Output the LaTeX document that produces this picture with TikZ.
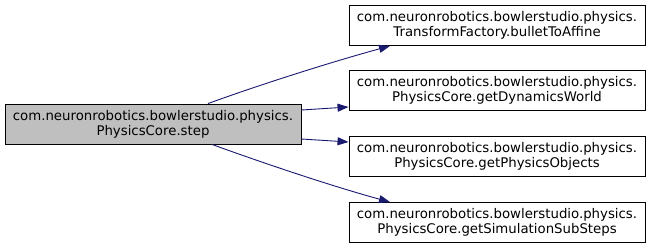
\documentclass[tikz,border=0pt]{standalone}
\usepackage{fontspec}
\setmainfont{DejaVu Sans}
\usetikzlibrary{arrows.meta}

\definecolor{edgeblue}{HTML}{191970}
\definecolor{focusgray}{HTML}{BFBFBF}

\tikzstyle{fn} = [draw=black, line width=0.9pt, fill=white, align=center, inner sep=0pt,
    minimum width=296pt, minimum height=40pt, font=\fontsize{13.3}{15}\selectfont]
\tikzstyle{focus} = [fn, fill=focusgray]
\tikzstyle{call} = [draw=edgeblue, line width=0.9pt, -{Triangle[length=11pt,width=8pt]}]

\begin{document}
\begin{tikzpicture}[x=1pt, y=-1pt]
\useasboundingbox (0,0) rectangle (651,248);
\node[focus] (step) at (153,124) {com.neuronrobotics.bowlerstudio.physics.\\PhysicsCore.step};
\node[fn] (affine) at (497,25.5) {com.neuronrobotics.bowlerstudio.physics.\\TransformFactory.bulletToAffine};
\node[fn] (world) at (497,90.5) {com.neuronrobotics.bowlerstudio.physics.\\PhysicsCore.getDynamicsWorld};
\node[fn] (objects) at (497,156) {com.neuronrobotics.bowlerstudio.physics.\\PhysicsCore.getPhysicsObjects};
\node[fn] (substeps) at (497,222.5) {com.neuronrobotics.bowlerstudio.physics.\\PhysicsCore.getSimulationSubSteps};
% calls out of step()
\draw[call] ([xshift=55pt]step.north) .. controls +(55,-20) and +(-55,15) .. ([xshift=-107pt]affine.south);
\draw[call] ([yshift=14pt]step.east) -- ([yshift=-16.5pt]world.west);
\draw[call] ([yshift=-15pt]step.east) -- ([yshift=14pt]objects.west);
\draw[call] ([xshift=59pt]step.south) .. controls +(55,20) and +(-55,-15) .. ([xshift=-107pt]substeps.north);
\end{tikzpicture}
\end{document}
